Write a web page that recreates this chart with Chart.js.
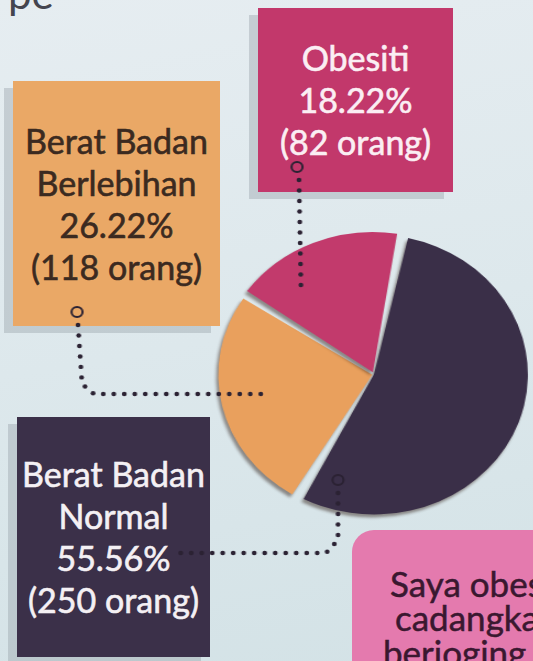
<!DOCTYPE html>
<html>
<head>
<meta charset="utf-8">
<script src="https://cdn.jsdelivr.net/npm/chart.js@4.4.1/dist/chart.umd.min.js"></script>
<style>
    html, body { margin: 0; padding: 0; }
    body {
        width: 533px; height: 661px; overflow: hidden; position: relative;
        background: linear-gradient(170deg, #e6edf1 0%, #dde8ec 50%, #d3e2e6 100%);
        font-family: Lato, 'Noto Sans', sans-serif;
    }
    /* pai dilukis sedikit lebar (elips) */
    #pieChart {
        position: absolute; left: 0; top: 0; z-index: 2;
        transform: scaleX(1.1); transform-origin: 375px 0;
    }
    .box {
        position: absolute; z-index: 1;
        display: flex; flex-direction: column; justify-content: center; align-items: center;
        text-align: center; font-size: 34px; line-height: 42px;
        -webkit-text-stroke: 0.6px currentColor;
    }
    .pink {
        position: absolute; left: 352px; top: 530px; width: 260px; height: 180px;
        background: #e47aae; border-radius: 22px; color: #3a1830;
        font-size: 35px; line-height: 35px; -webkit-text-stroke: 0.5px currentColor;
    }
    .pink span { position: absolute; white-space: nowrap; }
    .head { position: absolute; left: 8px; top: -32px; font-size: 42px; color: #44454f; }
</style>
</head>
<body>
<div class="head">pe</div>
<div id="box-obesiti" class="box"></div>
<div id="box-lebih" class="box"></div>
<div id="box-normal" class="box"></div>
<div class="pink">
    <span style="left:38px; top:36px;">Saya obesiti.</span>
    <span style="left:43px; top:70px;">cadangkan</span>
    <span style="left:31px; top:105px;">berjoging</span>
</div>
<canvas id="pieChart" width="533" height="661"></canvas>
<script>
// Kategori berat badan murid
const categories = ['Berat Badan Normal', 'Berat Badan Berlebihan', 'Obesiti'];
const counts = [250, 118, 82];
const percents = ['55.56%', '26.22%', '18.22%'];
const sliceColors = ['#3a2f48', '#e9a05d', '#c23a6c'];

const STRETCH = 1.1;   // sama dengan scaleX dalam CSS
const ORIGIN_X = 375;

// Kotak label (kedudukan dalam piksel)
const boxes = [
    { id: 'box-normal', i: 0, lines: ['Berat Badan', 'Normal'], left: 17, top: 417, w: 193, h: 240, bg: '#3b3049', fg: '#f4f0f4' },
    { id: 'box-lebih', i: 1, lines: ['Berat Badan', 'Berlebihan'], left: 13, top: 81, w: 207, h: 245, bg: '#eaa866', fg: '#3b2a20' },
    { id: 'box-obesiti', i: 2, lines: ['Obesiti'], left: 258, top: 8, w: 195, h: 184, bg: '#c2386b', fg: '#fbeef3' }
];

boxes.forEach(b => {
    const el = document.getElementById(b.id);
    el.style.left = b.left + 'px';
    el.style.top = b.top + 'px';
    el.style.width = b.w + 'px';
    el.style.height = b.h + 'px';
    el.style.background = b.bg;
    el.style.color = b.fg;
    el.style.boxShadow = '-9px 7px 0 rgba(150, 160, 168, 0.4)';
    const lines = b.lines.concat([percents[b.i], '(' + counts[b.i] + ' orang)']);
    el.innerHTML = lines.map(t => `<div>${t}</div>`).join('');
});

// Garis titik penyambung dari kotak ke hirisan (koordinat halaman)
const connectors = [
    { ring: [338, 480], path: [[338, 493], [338, 540], [326, 553], [180, 553]] },
    { ring: [77, 312], path: [[78, 325], [82, 384], [94, 394], [262, 394]] },
    { ring: [297, 167], path: [[299, 180], [301, 292]] }
];

// tukar x halaman ke x kanvas sebelum regangan
const toCanvasX = x => (x - ORIGIN_X) / STRETCH + ORIGIN_X;

function dottedPath(ctx, pts, gap) {
    let carry = 0;
    for (let k = 0; k < pts.length - 1; k++) {
        const [x1, y1] = pts[k];
        const [x2, y2] = pts[k + 1];
        const len = Math.hypot(x2 - x1, y2 - y1);
        let d = carry;
        while (d <= len) {
            const t = d / len;
            ctx.beginPath();
            ctx.arc(toCanvasX(x1 + (x2 - x1) * t), y1 + (y2 - y1) * t, 2.2, 0, Math.PI * 2);
            ctx.fill();
            d += gap;
        }
        carry = d - len;
    }
}

const connectorPlugin = {
    id: 'connectors',
    afterDatasetsDraw(chart) {
        const ctx = chart.ctx;
        ctx.save();
        ctx.fillStyle = '#2b2233';
        ctx.strokeStyle = '#2b2233';
        ctx.lineWidth = 2;
        connectors.forEach(c => {
            ctx.beginPath();
            ctx.arc(toCanvasX(c.ring[0]), c.ring[1], 5, 0, Math.PI * 2);
            ctx.stroke();
            dottedPath(ctx, c.path, 10.5);
        });
        ctx.restore();
    }
};

// Bayang lembut di bawah hirisan
const shadowPlugin = {
    id: 'sliceShadow',
    beforeDatasetsDraw(chart) {
        const ctx = chart.ctx;
        ctx.save();
        ctx.shadowColor = 'rgba(40, 20, 10, 0.45)';
        ctx.shadowBlur = 3;
        ctx.shadowOffsetX = -2;
        ctx.shadowOffsetY = 3;
    },
    afterDatasetsDraw(chart) {
        chart.ctx.restore();
    }
};

new Chart(document.getElementById('pieChart'), {
    type: 'pie',
    data: {
        labels: categories,
        datasets: [{
            data: counts,
            backgroundColor: sliceColors,
            borderWidth: 0,
            spacing: 4,
            offset: [0, 6, 10]
        }]
    },
    options: {
        responsive: false,
        animation: false,
        rotation: 10,
        layout: { padding: { left: 229, right: 14, top: 229, bottom: 141 } },
        plugins: { legend: { display: false }, tooltip: { enabled: false } }
    },
    plugins: [shadowPlugin, connectorPlugin]
});
</script>
</body>
</html>
